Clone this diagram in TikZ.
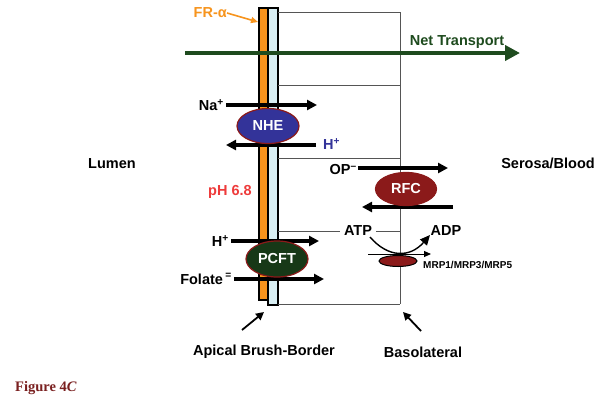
\documentclass[tikz,border=0pt]{standalone}
\usepackage{fontspec}
\setmainfont{Liberation Sans}
\newfontfamily\figfont{Liberation Serif}
\usetikzlibrary{arrows.meta,shapes.geometric}
\definecolor{orng}{HTML}{F7941D}
\definecolor{ltblue}{HTML}{D8EEF3}
\definecolor{netgreen}{HTML}{1E4B1E}
\definecolor{nheblue}{HTML}{333399}
\definecolor{rfcred}{HTML}{8B1A1A}
\definecolor{pcftgreen}{HTML}{173817}
\definecolor{phred}{HTML}{EE3B3B}
\definecolor{figred}{HTML}{7A2020}
\definecolor{cellgray}{HTML}{555555}
\begin{document}
\begin{tikzpicture}[x=1pt,y=-1pt,
  lbl/.style={font=\fontsize{14.5}{16}\selectfont\bfseries, inner sep=0pt},
  bigarrow/.style={line width=3.1pt, -{Triangle[length=10pt,width=10pt]}},
  thinarrow/.style={line width=1.8pt, -{Triangle[length=8pt,width=8pt]}},
  cellline/.style={cellgray, line width=0.9pt},
  carrier/.style={ellipse, draw=rfcred, line width=1.2pt, inner sep=0pt, text=white,
    font=\fontsize{14.5}{16}\selectfont\bfseries},
  bar/.style={draw=black, line width=1.2pt}
]
\fill[white] (0,0) rectangle (604,402);
\useasboundingbox (0,0) rectangle (604,402);

% membrane bars
\draw[bar, fill=orng] (259,8) rectangle (268,300);
\draw[bar, fill=ltblue] (268,8) rectangle (278,305);

% cell compartment lines
\draw[cellline] (278,12) -- (400,12);
\draw[cellline] (278,85) -- (400,85);
\draw[cellline] (278,158) -- (400,158);
\draw[cellline] (278,304) -- (400,304);
\draw[cellline] (400,12) -- (400,304);
\node[lbl] (atp) at (358,231) {ATP};
\draw[cellline] (278,231) -- ([xshift=-4pt]atp.west);
\draw[cellline] ([xshift=4pt]atp.east) -- (400,231);

% net transport
\coordinate (ntS) at (185,53);
\coordinate (ntE) at (520,53);
\draw[netgreen, line width=4.2pt, -{Triangle[length=15pt,width=15pt]}] (ntS) -- (ntE);
\node[lbl, text=netgreen] (nt) at (457,42) {Net Transport};

% FR-alpha
\node[lbl, text=orng, anchor=east] (fr) at (227,13) {FR-α};
\coordinate (frT) at (258,22);
\draw[orng, line width=1.6pt, -{Triangle[length=7pt,width=6pt]}] (fr.east) -- (frT);

% NHE
\node[lbl, anchor=east] (na) at (224,105) {Na\textsuperscript{+}};
\coordinate (naE) at (317,105);
\draw[bigarrow] ([xshift=2pt]na.east) -- (naE);
\coordinate (hS) at (316,145);
\coordinate (hE) at (226,145);
\draw[bigarrow] (hS) -- (hE);
\node[lbl, text=nheblue, anchor=west] (h1) at (323,144) {H\textsuperscript{+}};
\node[carrier, fill=nheblue, minimum width=62pt, minimum height=35pt] (nhe) at (268,126) {NHE};

\node[lbl, text=phred] (ph) at (230,192) {pH 6.8};

% RFC
\node[lbl, anchor=east] (op) at (357,170) {OP\textsuperscript{--}};
\coordinate (opE) at (448,168);
\draw[bigarrow] ([xshift=1pt]op.east |- opE) -- (opE);
\coordinate (rS) at (453,207);
\coordinate (rE) at (362,207);
\draw[bigarrow] (rS) -- (rE);
\node[carrier, fill=rfcred, minimum width=61pt, minimum height=33pt] (rfc) at (406,189) {RFC};

% PCFT
\node[lbl, anchor=east] (h2) at (229,241) {H\textsuperscript{+}};
\coordinate (h2E) at (319,241);
\draw[bigarrow] ([xshift=2pt]h2.east) -- (h2E);
\node[lbl, anchor=east] (fol) at (232,279) {Folate\,\textsuperscript{=}};
\coordinate (folE) at (324,279);
\draw[bigarrow] ([xshift=2pt]fol.east) -- (folE);
\node[carrier, fill=pcftgreen, minimum width=62pt, minimum height=36pt] (pcft) at (277,259) {PCFT};

% MRP
\node[lbl] (adp) at (446,231) {ADP};
\coordinate (mS) at (368,254);
\coordinate (mE) at (431,254);
\draw[line width=1pt, -{Triangle[length=7pt,width=6pt]}] (mS) -- (mE);
\coordinate (curveS) at (370,237);
\coordinate (curveE) at (430,235);
\draw[line width=1.4pt, -{Triangle[length=10pt,width=9pt]}] (curveS) .. controls (388,258) and (410,258) .. (curveE);
\node[ellipse, draw=black, fill=rfcred, line width=1pt, inner sep=0pt, minimum width=38pt, minimum height=11pt] (mrp) at (398,261) {};
\node[font=\fontsize{10}{12}\selectfont\bfseries, inner sep=0pt, anchor=west] (mrpl) at (423,265) {MRP1/MRP3/MRP5};

% side labels
\node[lbl] (lumen) at (112,164) {Lumen};
\node[lbl] (serosa) at (548,163) {Serosa/Blood};

% bottom labels
\node[lbl] (apical) at (264,352) {Apical Brush-Border};
\node[lbl] (baso) at (423,352) {Basolateral};
\coordinate (apT) at (264,312);
\coordinate (bT) at (403,312);
\draw[thinarrow] (242,330) -- (apT);
\draw[thinarrow] (421,331) -- (bT);

\node[font=\figfont\fontsize{14.5}{16}\selectfont\bfseries, text=figred, anchor=west, inner sep=0pt] (fig) at (15,388) {Figure 4\textit{C}};
\end{tikzpicture}
\end{document}
